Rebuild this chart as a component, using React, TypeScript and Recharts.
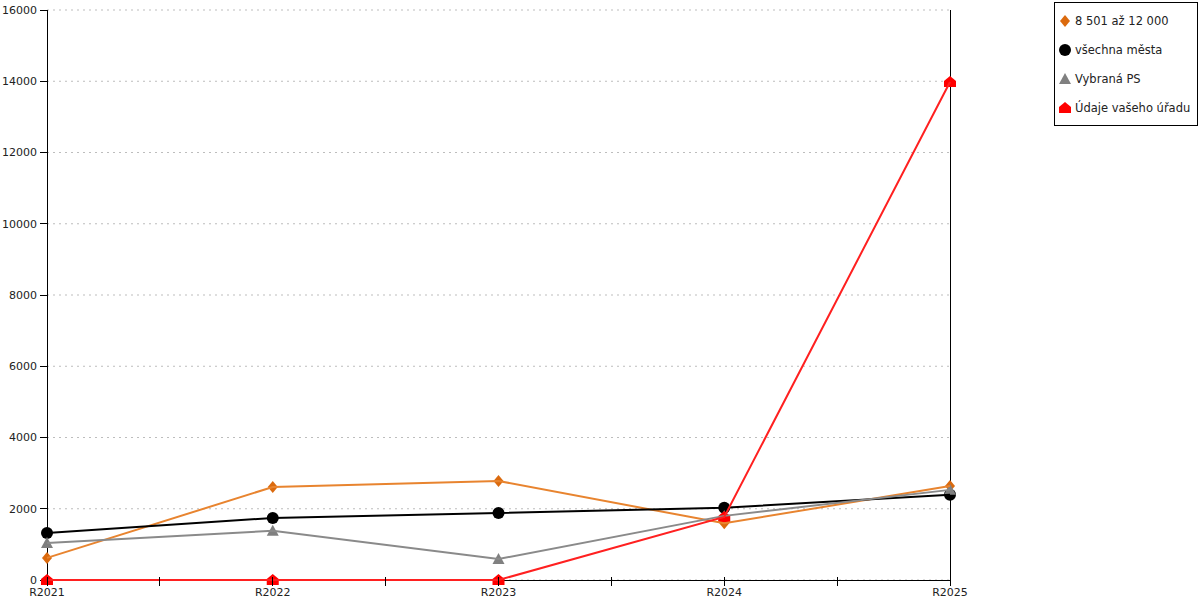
import * as React from 'react'
import {
  LineChart,
  Line,
  XAxis,
  YAxis,
  CartesianGrid,
  ReferenceLine,
} from 'recharts'

const categories = ['R2021', 'R2022', 'R2023', 'R2024', 'R2025']
const range8501 = [620, 2610, 2780, 1590, 2640]
const vsechnaMesta = [1320, 1740, 1880, 2030, 2390]
const vybranaPS = [1040, 1380, 590, 1800, 2530]
const udajeUradu = [0, 0, 0, 1770, 13980]
const yTicks = [0, 2000, 4000, 6000, 8000, 10000, 12000, 14000, 16000]
const xTicks = [0, 0.5, 1, 1.5, 2, 2.5, 3, 3.5, 4]

const data = categories.map((c, i) => ({
  idx: i,
  name: c,
  a: range8501[i],
  b: vsechnaMesta[i],
  c: vybranaPS[i],
  d: udajeUradu[i],
}))

const FONT = '"DejaVu Sans", Verdana, sans-serif'
const TEXT = '#222'
const CRISP = { stroke: '#000', strokeOpacity: 1, shapeRendering: 'crispEdges' } as any

type Shape = 'diamond' | 'circle' | 'triangle' | 'house'

function Marker({ shape, cx, cy, color }: { shape: Shape; cx: number; cy: number; color: string }) {
  if (shape === 'diamond') {
    return <polygon points={`${cx},${cy - 6} ${cx + 5},${cy} ${cx},${cy + 6} ${cx - 5},${cy}`} fill={color} />
  }
  if (shape === 'circle') {
    return <circle cx={cx} cy={cy} r={6} fill={color} />
  }
  if (shape === 'triangle') {
    return <polygon points={`${cx},${cy - 6} ${cx + 6},${cy + 5} ${cx - 6},${cy + 5}`} fill={color} />
  }
  return (
    <polygon
      points={`${cx - 6},${cy + 5} ${cx - 6},${cy - 1} ${cx},${cy - 6} ${cx + 6},${cy - 1} ${cx + 6},${cy + 5}`}
      fill={color}
    />
  )
}

const makeDot = (shape: Shape, color: string) => (props: any) => (
  <Marker key={`${shape}-${props.index}`} shape={shape} cx={props.cx} cy={props.cy} color={color} />
)

const series = [
  { key: 'a', label: '8 501 až 12 000', line: '#e8842f', mark: '#db6a0e', shape: 'diamond' as Shape },
  { key: 'b', label: 'všechna města', line: '#000000', mark: '#000000', shape: 'circle' as Shape },
  { key: 'c', label: 'Vybraná PS', line: '#8a8a8a', mark: '#808080', shape: 'triangle' as Shape },
  { key: 'd', label: 'Údaje vašeho úřadu', line: '#ff2020', mark: '#ff0000', shape: 'house' as Shape },
]

function XTick(props: any) {
  const { x, y, payload } = props
  const v = payload.value as number
  const major = Number.isInteger(v)
  return (
    <g>
      <line x1={x} x2={x} y1={y - 3} y2={y + 6} stroke="#000" shapeRendering="crispEdges" />
      {major ? (
        <text x={x} y={y + 16} textAnchor="middle" fontSize={11} fontFamily={FONT} fill={TEXT}>
          {categories[v]}
        </text>
      ) : null}
    </g>
  )
}

function LegendBox() {
  return (
    <div
      style={{
        position: 'absolute',
        left: 1054,
        top: 2,
        width: 142,
        height: 122,
        border: '1px solid #000',
        background: '#fff',
        fontFamily: FONT,
        fontSize: 11.5,
        color: TEXT,
        whiteSpace: 'nowrap',
      }}
    >
      {series.map((s, i) => (
        <div
          key={s.key}
          style={{ position: 'absolute', left: 2, top: 10 + i * 29, height: 16, display: 'flex', alignItems: 'center' }}
        >
          <svg width={16} height={16} style={{ display: 'block' }}>
            <Marker shape={s.shape} cx={8} cy={8} color={s.mark} />
          </svg>
          <span style={{ marginLeft: 2 }}>{s.label}</span>
        </div>
      ))}
    </div>
  )
}

export default function App() {
  return (
    <div style={{ position: 'absolute', left: 0, top: 0, width: 1200, height: 600, background: '#fff' }}>
      <LineChart width={1200} height={600} data={data} margin={{ top: 10, right: 250, bottom: 0, left: 0 }}>
        <CartesianGrid vertical={false} stroke="#bdbdbd" strokeDasharray="2 4" />
        <XAxis
          dataKey="idx"
          type="number"
          domain={[0, 4]}
          ticks={xTicks}
          interval={0}
          tickLine={false}
          tickSize={0}
          tickMargin={0}
          tick={<XTick />}
          stroke="#000"
          axisLine={CRISP}
          height={20}
        />
        <YAxis
          domain={[0, 16000]}
          ticks={yTicks}
          interval={0}
          width={47}
          tickSize={7}
          tickMargin={3}
          stroke="#000"
          tickLine={CRISP}
          axisLine={CRISP}
          tick={{ fontSize: 11, fontFamily: FONT, fill: TEXT }}
        />
        <ReferenceLine x={4} stroke="#000" strokeOpacity={1} shapeRendering="crispEdges" />
        {series.map((s) => (
          <Line
            key={s.key}
            dataKey={s.key}
            type="linear"
            stroke={s.line}
            strokeWidth={2}
            dot={makeDot(s.shape, s.mark)}
            activeDot={false}
            isAnimationActive={false}
            {...({ zIndex: 700 } as any)}
          />
        ))}
      </LineChart>
      <LegendBox />
    </div>
  )
}
